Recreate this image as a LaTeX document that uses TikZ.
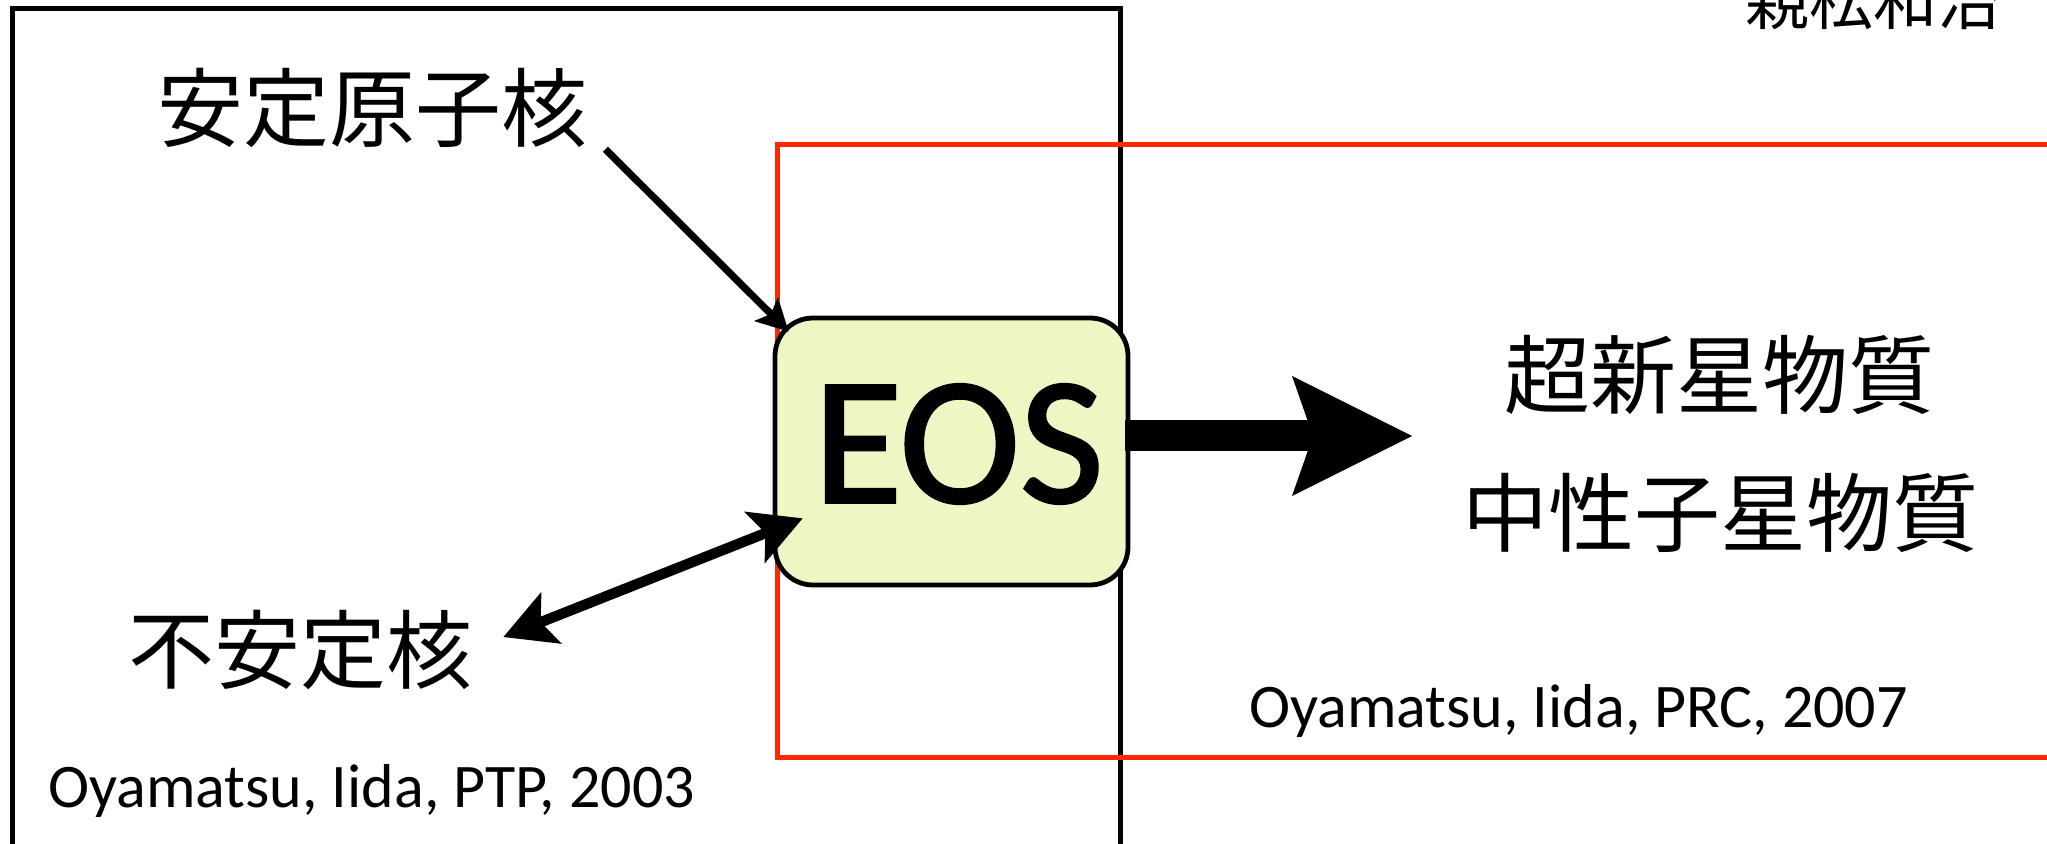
\documentclass[tikz,border=0pt]{standalone}
\usepackage{fontspec}
\usetikzlibrary{arrows.meta}
\newfontfamily\latinfont{Carlito}
\newfontfamily\eosfont[FakeBold=1.6]{Carlito}
\newfontfamily\jpfont{Noto Sans CJK JP}
\definecolor{framered}{RGB}{255,40,0}
\definecolor{eosfill}{RGB}{238,247,196}
\tikzset{
  framebox/.style={line width=2.5pt},
  redframe/.style={draw=framered, line width=2.5pt},
  eosbox/.style={draw=black, fill=eosfill, line width=2.4pt, rounded corners=19pt,
    minimum width=176.5pt, minimum height=133.5pt, inner sep=0pt},
  eostext/.style={font=\eosfont\fontsize{91pt}{91pt}\selectfont, inner sep=0pt},
  jplabel/.style={font=\jpfont\fontsize{43pt}{43pt}\selectfont, inner sep=0pt},
  authorlabel/.style={font=\jpfont\fontsize{32pt}{32pt}\selectfont, inner sep=0pt},
  reflabel/.style={font=\latinfont\fontsize{31pt}{31pt}\selectfont, inner sep=0pt, anchor=base west},
  thinarrow/.style={line width=3.6pt, -{Stealth[length=16pt, width=17pt, inset=3.5pt, line width=0pt]}},
  twoway/.style={line width=5.2pt, {Stealth[length=26pt, width=28pt, inset=6pt, line width=0pt]}-{Stealth[length=26pt, width=28pt, inset=6pt, line width=0pt]}},
  bigarrow/.style={line width=15.5pt, -{Stealth[length=60pt, width=60pt, inset=10.5pt, line width=0pt]}},
}
\begin{document}
\begin{tikzpicture}[x=0.5pt, y=-0.5pt]
  \useasboundingbox (0,0) rectangle (2047,844);
  \clip (0,0) rectangle (2047,844);

  % the two study regions
  \draw[framebox] (12,9) rectangle (1120.5,900);
  \draw[redframe] (777,145) rectangle (2120,757);

  % author
  \node[authorlabel] (author) at (1873,0) {親松和治};

  % central equation of state box
  \node[eosbox] (eos) at (951.5,451.5) {};
  \node[eostext] (eoslabel) at (958.5,444) {EOS};

  % inputs
  \node[jplabel] (stable) at (372,108) {安定原子核};
  \node[jplabel] (unstable) at (300,650) {不安定核};

  % outputs
  \node[jplabel] (supernova) at (1719,375) {超新星物質};
  \node[jplabel] (neutronstar) at (1720,513) {中性子星物質};

  % references
  \node[reflabel] (ref2003) at (48,807) {Oyamatsu, Iida, PTP, 2003};
  \node[reflabel] (ref2007) at (1249,727) {Oyamatsu, Iida, PRC, 2007};

  % connectors
  \coordinate (bigtip) at (1412,436);
  \draw[thinarrow] ([shift={(18,1)}]stable.south east) -- ([shift={(16,16)}]eos.north west);
  \draw[twoway] ([shift={(31,-13)}]unstable.east) -- ([shift={(30,-69)}]eos.south west);
  \draw[bigarrow] ([shift={(-5,-15.5)}]eos.east) -- (bigtip);
\end{tikzpicture}
\end{document}
